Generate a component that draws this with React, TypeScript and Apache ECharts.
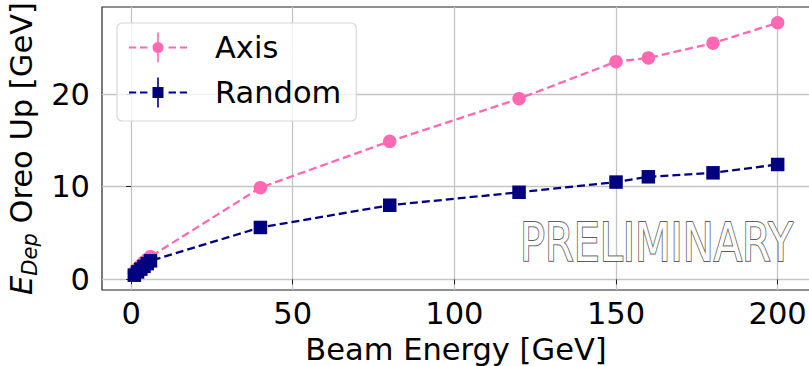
import React, { useEffect, useRef } from "react";
import * as echarts from "echarts";

const energies = [1, 2, 3, 4, 5, 6, 40, 80, 120, 150, 160, 180, 200];
const axisValues = [0.75, 1.15, 1.5, 1.85, 2.15, 2.45, 9.9, 14.9, 19.5, 23.5, 23.9, 25.5, 27.7];
const randomValues = [0.45, 0.8, 1.1, 1.4, 1.7, 2.0, 5.6, 8.0, 9.4, 10.5, 11.07, 11.5, 12.4];
const seriesNames = ["Axis", "Random"];
const seriesColors = ["#ff69b4", "#000080"];
const xTicks = [0, 50, 100, 150, 200];
const yTicks = [0, 10, 20];
const xTitle = "Beam Energy [GeV]";
const yTitle = "{e|E}{s|Dep} Oreo Up [GeV]";
const watermark = "PRELIMINARY";

const FONT = "DejaVu Sans";
const FS = 30.5;

const dashes = "M0 13.9h7.2v2.2h-7.2z M11 13.9h7.4v2.2h-7.4z M39.6 13.9h7.4v2.2h-7.4z M50.8 13.9h7.2v2.2h-7.2z M28.2 0h1.6v30h-1.6z";
const circleIcon = "path://" + dashes + " M23.5 15a5.5 5.5 0 1 1 11 0a5.5 5.5 0 1 1 -11 0z";
const squareIcon = "path://" + dashes + " M23.5 9.5h11v11h-11z";

export default function App() {
  const ref = useRef<HTMLDivElement>(null);
  useEffect(() => {
    if (!ref.current) return;
    const chart = echarts.init(ref.current, null, { renderer: "svg" });
    const mk = (vals: number[]) => energies.map((e, i) => [e, vals[i]]);
    chart.setOption({
      animation: false,
      backgroundColor: "#ffffff",
      textStyle: { fontFamily: FONT },
      grid: {
        left: 102,
        top: 7,
        right: -1,
        bottom: 76,
        containLabel: false,
        outerBoundsMode: "none",
        show: true,
        borderColor: "#222",
        borderWidth: 1.2,
        backgroundColor: "transparent",
      },
      xAxis: {
        type: "value",
        min: -9,
        max: 210,
        axisLine: { show: false },
        axisTick: { show: true, length: 5, lineStyle: { color: "#222", width: 1 }, customValues: xTicks },
        axisLabel: { customValues: xTicks, fontSize: FS, color: "#000", margin: 8, fontFamily: FONT },
        splitLine: { show: true, lineStyle: { color: "#c4c4c4", width: 1.3 } },
        name: xTitle,
        nameLocation: "middle",
        nameGap: 37,
        nameTextStyle: { fontSize: FS, color: "#000", fontFamily: FONT },
      },
      yAxis: {
        type: "value",
        min: -1.15,
        max: 29.4,
        axisLine: { show: false },
        axisTick: { show: true, length: 5, lineStyle: { color: "#222", width: 1 }, customValues: yTicks },
        axisLabel: { customValues: yTicks, fontSize: FS, color: "#000", margin: 12, fontFamily: FONT },
        splitLine: { show: true, lineStyle: { color: "#c4c4c4", width: 1.3 } },
        name: yTitle,
        nameLocation: "middle",
        nameRotate: 90,
        nameGap: 58,
        nameTextStyle: {
          fontSize: FS,
          color: "#000",
          fontFamily: FONT,
          lineHeight: 38,
          rich: {
            e: { fontSize: FS, fontStyle: "italic", fontFamily: FONT, color: "#000", lineHeight: 38, verticalAlign: "middle" },
            s: { fontSize: 21, fontStyle: "italic", fontFamily: FONT, color: "#000", lineHeight: 21, verticalAlign: "bottom" },
          },
        },
      },
      legend: {
        orient: "vertical",
        left: 117,
        top: 23,
        padding: [9, 15, 13, 12],
        itemWidth: 58,
        itemHeight: 30,
        itemGap: 14,
        backgroundColor: "rgba(255,255,255,0.8)",
        borderColor: "#d6d6d6",
        borderWidth: 1.2,
        borderRadius: 5,
        itemStyle: { borderWidth: 0 },
        textStyle: { fontSize: FS, fontFamily: FONT, color: "#000", padding: [0, 0, 0, 23], lineHeight: 30 },
        data: [
          { name: seriesNames[0], icon: circleIcon },
          { name: seriesNames[1], icon: squareIcon },
        ],
      },
      graphic: [
        {
          type: "text",
          x: 520,
          y: 243,
          scaleX: 0.78,
          z: 100,
          style: {
            text: watermark,
            x: 0,
            y: 0,
            font: `53px "${FONT}"`,
            fill: "#ffffff",
            stroke: "#5e5e5e",
            lineWidth: 2,
            textAlign: "left",
            textVerticalAlign: "middle",
          },
        },
      ],
      series: [
        {
          name: seriesNames[0],
          type: "line",
          data: mk(axisValues),
          symbol: "circle",
          symbolSize: 13.5,
          itemStyle: { color: seriesColors[0], borderWidth: 0 },
          lineStyle: { color: seriesColors[0], width: 2.3, type: [8, 4] },
          z: 3,
        },
        {
          name: seriesNames[1],
          type: "line",
          data: mk(randomValues),
          symbol: "rect",
          symbolSize: 13.5,
          itemStyle: { color: seriesColors[1], borderWidth: 0 },
          lineStyle: { color: seriesColors[1], width: 2.3, type: [8, 4] },
          z: 4,
        },
      ],
    });
    return () => chart.dispose();
  }, []);
  return <div ref={ref} style={{ width: 809, height: 366, position: "absolute", left: 0, top: 0 }} />;
}
